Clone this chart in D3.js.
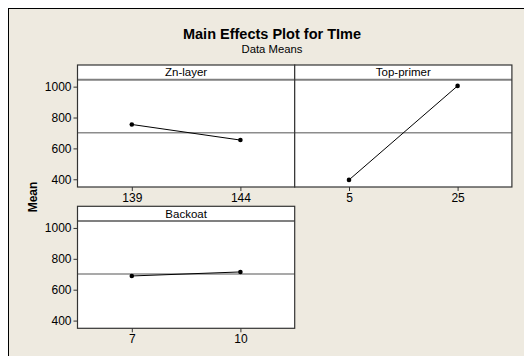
<!DOCTYPE html>
<html>
<head>
<meta charset="utf-8">
<script src="https://cdn.jsdelivr.net/npm/d3@7"></script>
<style>
  body { margin: 0; background: #fff; }
  svg { display: block; font-family: "Liberation Sans", Arial, sans-serif; }
</style>
</head>
<body>
<svg></svg>
<script>
var width = 524,
    height = 356

// data
var factors = ["Zn-layer", "Top-primer", "Backoat"],
    levels = [["139", "144"], ["5", "25"], ["7", "10"]],
    means = [[755, 654], [396, 1005], [689, 715]],
    grandMean = 701,
    yTicks = [400, 600, 800, 1000]

// panel grid
var grid = { left: 77.5, top: 65, colW: 217.2, rowH: 141.3, strip: 14.7, plotH: 107.3 }
var cells = [{ col: 0, row: 0 }, { col: 1, row: 0 }, { col: 0, row: 1 }]

var svg = d3.select("svg").attr("width", width).attr("height", height)

svg.append("rect")
    .attr("x", 8.5).attr("y", 8.5)
    .attr("width", width).attr("height", height)
    .attr("fill", "#eeeae0")
    .attr("stroke", "#000")

svg.append("text")
    .attr("x", 272).attr("y", 38.5)
    .attr("text-anchor", "middle")
    .style("font-size", "14.5px").style("font-weight", "bold")
    .text("Main Effects Plot for TIme")

svg.append("text")
    .attr("x", 272).attr("y", 53)
    .attr("text-anchor", "middle")
    .style("font-size", "11.3px")
    .text("Data Means")

svg.append("text")
    .attr("transform", "translate(37,197) rotate(-90)")
    .attr("text-anchor", "middle")
    .style("font-size", "12px").style("font-weight", "bold")
    .text("Mean")

var yScale = d3.scaleLinear().domain([350, 1045]).range([grid.plotH, 0])

factors.forEach(function(name, i) {
    var c = cells[i]
    var g = svg.append("g")
        .attr("transform", "translate(" + (grid.left + c.col * grid.colW) + "," + (grid.top + c.row * grid.rowH) + ")")

    var xScale = d3.scalePoint().domain(levels[i]).range([0, grid.colW]).padding(0.5)

    // strip
    g.append("rect")
        .attr("width", grid.colW).attr("height", grid.strip)
        .attr("fill", "#fff")
    g.append("text")
        .attr("x", grid.colW / 2).attr("y", grid.strip - 3.3)
        .attr("text-anchor", "middle")
        .style("font-size", "11.5px")
        .text(name)

    var plot = g.append("g").attr("transform", "translate(0," + grid.strip + ")")
    plot.append("rect")
        .attr("width", grid.colW).attr("height", grid.plotH)
        .attr("fill", "#fff")

    // reference line at the grand mean
    plot.append("line")
        .attr("x1", 0).attr("x2", grid.colW)
        .attr("y1", yScale(grandMean)).attr("y2", yScale(grandMean))
        .attr("stroke", "#8c8c8c").attr("stroke-width", 1.5)

    var pts = levels[i].map(function(l, j) { return [xScale(l), yScale(means[i][j])] })
    plot.append("path")
        .attr("d", d3.line()(pts))
        .attr("fill", "none").attr("stroke", "#000").attr("stroke-width", 1)
    plot.selectAll("circle")
        .data(pts)
        .enter()
        .append("circle")
        .attr("cx", function(d) { return d[0] })
        .attr("cy", function(d) { return d[1] })
        .attr("r", 2.3)
        .attr("fill", "#000")

    // x axis
    var xAxis = plot.append("g")
        .attr("transform", "translate(0," + grid.plotH + ")")
        .call(d3.axisBottom(xScale).tickSize(4).tickPadding(2))
    xAxis.select(".domain").remove()
    xAxis.selectAll("line").attr("stroke", "#333")
    xAxis.selectAll("text").style("font-size", "12px").attr("fill", "#000")

    if (c.col == 0) {
        var yAxis = plot.append("g")
            .call(d3.axisLeft(yScale).tickValues(yTicks).tickFormat(d3.format("d")).tickSize(4).tickPadding(2))
        yAxis.select(".domain").remove()
        yAxis.selectAll("line").attr("stroke", "#333")
        yAxis.selectAll("text").style("font-size", "12px").attr("fill", "#000")
    }

    // frame
    g.append("line")
        .attr("x1", 0).attr("x2", grid.colW)
        .attr("y1", grid.strip).attr("y2", grid.strip)
        .attr("stroke", "#808080").attr("stroke-width", 2)
    g.append("rect")
        .attr("width", grid.colW).attr("height", grid.strip + grid.plotH)
        .attr("fill", "none")
        .attr("stroke", "#333").attr("stroke-width", 1.2)
})
</script>
</body>
</html>
